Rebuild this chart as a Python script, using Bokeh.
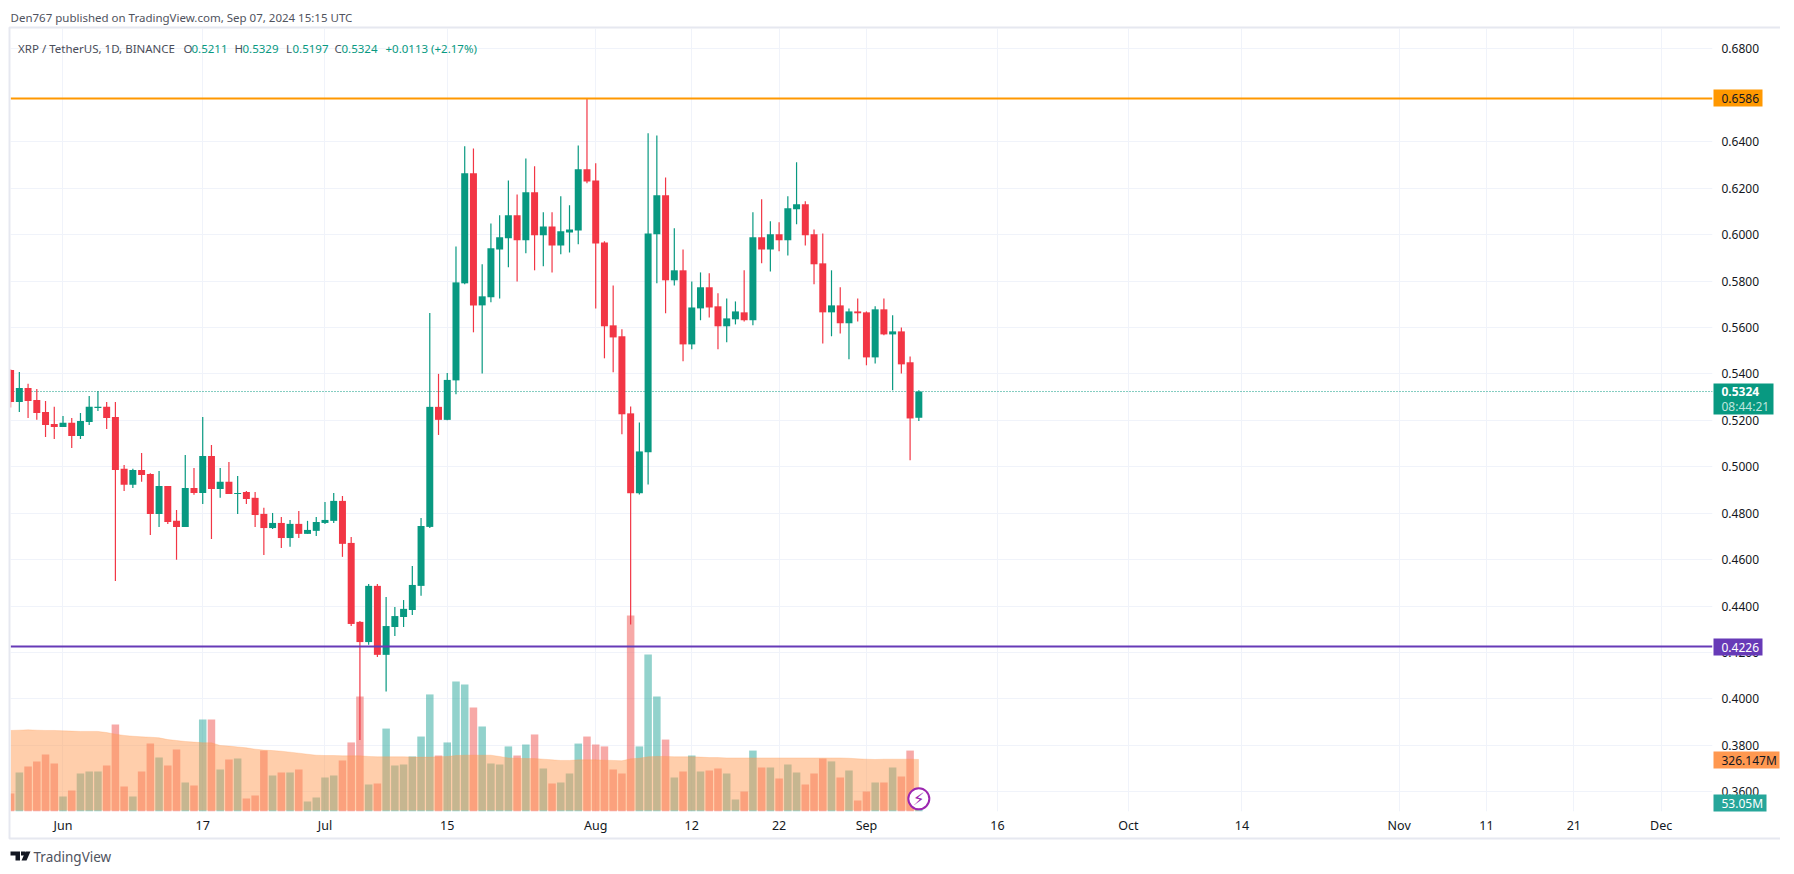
import numpy as np
import pandas as pd
from bokeh.plotting import figure
from bokeh.layouts import column
from bokeh.models import (Range1d, FixedTicker, ColumnDataSource, NumeralTickFormatter)
from bokeh.core.properties import value
from bokeh.embed import file_html
from bokeh.resources import INLINE

FONT = "Noto Sans"

first_day = "2024-05-26"

opens = [.5417,.5279,.5339,.5288,.5236,.5184,.5171,.5189,.5133,.5193,.5253,.5258,.5214,.4991,.4922,.4986,.4969,.4797,.4917,.4767,
         .4741,.4909,.4887,.5046,.4904,.4935,.4883,.4891,.4866,.4797,.4736,.4758,.4693,.4754,.4711,.4724,.4758,.4767,.4853,.4672,
         .4332,.4245,.4487,.4190,.4310,.4353,.4383,.4487,.4741,.5258,.5202,.5372,.5790,.6264,.5695,.5730,.5936,.5984,.6083,.5975,
         .6182,.5997,.6035,.5953,.6009,.6018,.6281,.6233,.5966,.5609,.5562,.5230,.4886,.5062,.6001,.6169,.5803,.5846,.5527,.5682,
         .5773,.5691,.5605,.5635,.5665,.5631,.5988,.5936,.6001,.5975,.6109,.6130,.6001,.5876,.5665,.5695,.5618,.5669,.5665,.5471,
         .5678,.5570,.5583,.5450,.5211]
highs = [.5420,.5408,.5357,.5335,.5283,.5258,.5219,.5210,.5232,.5305,.5326,.5279,.5279,.5008,.4991,.5059,.4972,.4982,.4917,.4814,
         .5051,.4995,.5214,.5094,.4995,.5021,.4960,.4896,.4891,.4823,.4801,.4784,.4771,.4810,.4767,.4784,.4848,.4887,.4874,.4698,
         .4336,.4495,.4495,.4439,.4396,.4426,.4573,.4779,.5662,.5400,.5404,.5949,.6380,.6371,.5872,.6048,.6083,.6233,.6173,.6328,
         .6294,.6096,.6096,.6165,.6126,.6384,.6586,.6307,.5971,.5781,.5592,.5260,.5191,.6436,.6427,.6246,.6027,.5936,.5798,.5837,
         .5833,.5747,.5725,.5712,.5846,.6096,.6152,.6057,.6053,.6165,.6311,.6143,.6022,.6005,.5846,.5773,.5682,.5725,.5669,.5691,
         .5725,.5652,.5600,.5475,.5329]
lows = [.5255,.5236,.5210,.5202,.5128,.5120,.5171,.5081,.5120,.5180,.5240,.5163,.4508,.4896,.4909,.4935,.4706,.4741,.4754,.4599,
        .4741,.4879,.4840,.4689,.4866,.4883,.4797,.4840,.4741,.4620,.4732,.4650,.4655,.4693,.4711,.4702,.4754,.4758,.4612,.4314,
        .3823,.4233,.4181,.4032,.4271,.4310,.4362,.4444,.4736,.5137,.5200,.5312,.5786,.5579,.5402,.5708,.5725,.5859,.5798,.5919,
        .5846,.5863,.5837,.5915,.5923,.5958,.6221,.5682,.5467,.5407,.5140,.4321,.4881,.4924,.5790,.5661,.5781,.5454,.5506,.5631,
        .5643,.5506,.5536,.5613,.5626,.5609,.5876,.5841,.5928,.5910,.6044,.5953,.5786,.5531,.5562,.5574,.5463,.5626,.5437,.5445,
        .5566,.5329,.5402,.5028,.5197]
closes = [.5279,.5339,.5283,.5232,.5180,.5171,.5189,.5133,.5197,.5258,.5258,.5210,.4986,.4922,.4986,.4965,.4797,.4917,.4762,.4741,
          .4909,.4887,.5046,.4904,.4935,.4883,.4887,.4861,.4792,.4736,.4758,.4693,.4754,.4711,.4728,.4762,.4771,.4853,.4668,.4323,
          .4245,.4487,.4190,.4314,.4357,.4388,.4491,.4745,.5258,.5202,.5374,.5794,.6264,.5695,.5734,.5941,.5988,.6083,.5975,.6182,
          .5997,.6035,.5953,.6014,.6022,.6281,.6229,.5962,.5605,.5557,.5226,.4886,.5066,.6005,.6169,.5803,.5846,.5527,.5686,.5773,
          .5686,.5605,.5639,.5669,.5631,.5988,.5936,.6001,.5975,.6113,.6130,.5997,.5872,.5665,.5695,.5618,.5669,.5661,.5471,.5678,
          .5570,.5583,.5441,.5208,.5324]

volume_m = [113,245,282,314,357,301,94,132,238,251,251,288,545,157,94,251,426,339,288,389,
            182,163,577,577,263,326,332,82,100,382,226,245,245,263,63,88,213,226,320,433,
            721,169,176,520,288,295,345,470,734,351,433,815,796,652,533,301,295,408,351,420,
            483,270,176,182,238,426,470,420,408,263,238,1229,408,984,721,451,213,251,351,251,
            257,270,238,75,125,382,276,276,207,295,245,169,238,332,314,213,257,69,125,182,
            182,276,219,382,53.05]

volume_ma_m = [508,510,512,510,508,508,506,504,502,502,502,495,485,477,472,468,466,462,451,445,
               439,435,431,431,414,410,405,399,391,385,382,378,372,366,359,353,351,351,349,349,
               349,345,343,343,343,343,341,341,341,343,345,351,353,353,353,353,345,336,334,332,
               332,328,324,320,320,324,324,324,322,320,318,330,334,343,345,345,343,343,343,341,
               338,338,336,336,336,336,336,336,336,336,336,336,336,336,336,336,334,330,328,326,
               328,328,328,328,326.147]

price_ticks = [0.36,0.38,0.40,0.42,0.44,0.46,0.48,0.50,0.52,0.54,0.56,0.58,0.60,0.62,0.64,0.68]
time_tick_dates = ["2024-06-01","2024-06-17","2024-07-01","2024-07-15","2024-08-01","2024-08-12","2024-08-22",
                   "2024-09-01","2024-09-16","2024-10-01","2024-10-14","2024-11-01","2024-11-11","2024-11-21","2024-12-01"]
time_tick_labels = ["Jun","17","Jul","15","Aug","12","22","Sep","16","Oct","14","Nov","11","21","Dec"]

resistance = 0.6586
support = 0.4226
last_price = 0.5324
ma_tag = "326.147M"
vol_tag = "53.05M"
countdown = "08:44:21"
header = "Den767 published on TradingView.com, Sep 07, 2024 15:15 UTC"
symbol = "XRP / TetherUS, 1D, BINANCE"

GREEN = "#089981"; RED = "#f23645"
W, H = 1790, 866

PX_PER_DAY = 8.733; X0_PX = 10.1
PX_PER_UNIT = 2322.0; Y068_PX = 48.3
def px2x(px): return (px - X0_PX) / PX_PER_DAY
def py2y(py): return 0.68 - (py - Y068_PX) / PX_PER_UNIT

PANE_L, PANE_R, PANE_T, PANE_B = 10, 1712, 28, 811
M_PER_PX = 6.27

days = np.arange(len(opens))
up = np.array(closes) >= np.array(opens)
tick_days = [int((pd.Timestamp(d) - pd.Timestamp(first_day)).days) for d in time_tick_dates]

p = figure(width=W, height=H, output_backend="svg", toolbar_location=None,
           x_range=Range1d(px2x(PANE_L), px2x(PANE_R)),
           y_range=Range1d(py2y(PANE_B), py2y(PANE_T)),
           y_axis_location="right", min_border_left=PANE_L, min_border_right=W - PANE_R,
           min_border_top=PANE_T, min_border_bottom=H - PANE_B, outline_line_color=None,
           background_fill_color="white", border_fill_color="white")
p.extra_y_ranges = {"vol": Range1d(0, (PANE_B - PANE_T) * M_PER_PX)}

ax = p.yaxis[0]
ax.ticker = FixedTicker(ticks=price_ticks)
ax.formatter = NumeralTickFormatter(format="0.0000")
ax.axis_line_color = None; ax.major_tick_line_color = None; ax.minor_tick_line_color = None
ax.major_tick_in = 0; ax.major_tick_out = 0
ax.major_label_text_font = FONT; ax.major_label_text_font_size = "12px"
ax.major_label_text_color = "#131722"; ax.major_label_standoff = 9

xa = p.xaxis[0]
xa.ticker = FixedTicker(ticks=tick_days)
xa.major_label_overrides = dict(zip(tick_days, time_tick_labels))
xa.axis_line_color = None; xa.major_tick_line_color = None; xa.minor_tick_line_color = None
xa.major_tick_in = 0; xa.major_tick_out = 0
xa.major_label_text_font = FONT; xa.major_label_text_font_size = "12.5px"
xa.major_label_text_color = "#131722"; xa.major_label_standoff = 5

for g, t in ((p.xgrid[0], tick_days), (p.ygrid[0], price_ticks)):
    g.ticker = FixedTicker(ticks=t)
    g.grid_line_color = "#f0f3fa"; g.grid_line_width = 1

# volume
vsrc = ColumnDataSource(dict(x=days, top=volume_m, c=["#26a69a" if u else "#ef5350" for u in up]))
p.vbar(x="x", top="top", bottom=0, width=0.86, fill_color="c", fill_alpha=0.5, line_color=None,
       source=vsrc, y_range_name="vol")
p.varea(x=days, y1=6, y2=volume_ma_m, fill_color="#ff9850", fill_alpha=0.48, y_range_name="vol")
p.line(x=days, y=volume_ma_m, line_color="#ff9850", line_alpha=0.25, line_width=1, y_range_name="vol")

# last price
p.line(x=[px2x(PANE_L), px2x(PANE_R)], y=[last_price, last_price], line_color=GREEN, line_width=1, line_dash="1 2")

# candles
csrc = ColumnDataSource(dict(x=days, o=opens, h=highs, l=lows, cl=closes, c=[GREEN if u else RED for u in up],
                             top=np.maximum(opens, closes), bot=np.minimum(opens, closes)))
p.segment(x0="x", y0="l", x1="x", y1="h", line_color="c", line_width=1.2, source=csrc)
p.vbar(x="x", top="top", bottom="bot", width=0.8, fill_color="c", line_color=None, source=csrc)

# levels
p.line(x=[px2x(PANE_L), px2x(PANE_R)], y=[resistance, resistance], line_color="#ff9800", line_width=2)
p.line(x=[px2x(PANE_L), px2x(PANE_R)], y=[support, support], line_color="#673ab7", line_width=2)

# lightning marker
mark_y = py2y(798.3)
p.scatter(x=[days[-1]], y=[mark_y], size=21, marker="circle", fill_color="white", line_color="#9c27b0", line_width=2)
p.text(x=[days[-1]], y=[mark_y], text=["\u26a1"], text_font=value("DejaVu Sans"), text_font_size="17px",
       text_color="#9c27b0", text_align="center", text_baseline="middle")

# transparent overlay in page pixels: frame, header, price tags, footer
ov = figure(frame_width=W, frame_height=H, output_backend="svg", toolbar_location=None,
            x_range=Range1d(0, W), y_range=Range1d(H, 0),
            x_axis_type=None, y_axis_type=None, min_border=0,
            min_border_left=0, min_border_right=0, min_border_top=0, min_border_bottom=0,
            outline_line_color=None, background_fill_color=None, border_fill_color=None,
            styles={"position": "absolute", "left": "-10px", "top": "0px",
                    "width": f"{W}px", "height": f"{H}px", "margin": "0px"})
ov.grid.visible = False

def box(l, r, t, b, color):
    ov.quad(left=[l], right=[r], top=[t], bottom=[b], fill_color=color, line_color=None)

def txt(px, py, s, color="#131722", size="12px", style="normal"):
    ov.text(x=[px], y=[py], text=[s], text_color=color, text_font=value(FONT), text_font_size=size,
            text_font_style=style, text_baseline="middle", text_align="left")

ov.quad(left=[9], right=[1784], top=[27], bottom=[838], fill_color=None, line_color="#e6e8f0", line_width=2)

box(1713, 1762, 89, 106, "#ff9800"); txt(1721, 97.5, f"{resistance:.4f}", "#131722")
box(1713, 1773, 383, 414, GREEN)
txt(1721, 391, f"{last_price:.4f}", "#ffffff", style="bold"); txt(1721, 406, countdown, "#bfe6de")
box(1713, 1762, 638, 655, "#673ab7"); txt(1721, 646.5, f"{support:.4f}", "#ffffff")
box(1713, 1779, 751, 768, "#ff9850"); txt(1721, 759.5, ma_tag, "#131722")
box(1713, 1766, 794, 811, "#26a69a"); txt(1721, 802.5, vol_tag, "#ffffff")

txt(10, 17, header, "#50535e", "11.5px")
LEG = "#4a4d59"
txt(17.6, 48, symbol, LEG, "11.5px")
for px, s in ((183, "O"), (234, "H"), (285.5, "L"), (334, "C")):
    txt(px, 48, s, LEG, "11.5px")
for px, s in ((191, "0.5211"), (242, "0.5329"), (292, "0.5197"), (341, "0.5324"), (385, "+0.0113 (+2.17%)")):
    txt(px, 48, s, GREEN, "11.5px")

LOGO = "#131722"
ov.patch([10,19.5,19.5,15,15,10], [851,851,860,860,855,855], fill_color=LOGO, line_color=None)
ov.patch([20.5,24.5,24.5,20.5], [851,851,855,855], fill_color=LOGO, line_color=None)
ov.patch([25,30,26,21], [851,851,860,860], fill_color=LOGO, line_color=None)
txt(33, 856, "TradingView", "#50535e", "13.5px")

layout = column(p, ov, width=W, height=H, sizing_mode="fixed", spacing=0)
open("out.html", "w").write(file_html(layout, INLINE))
